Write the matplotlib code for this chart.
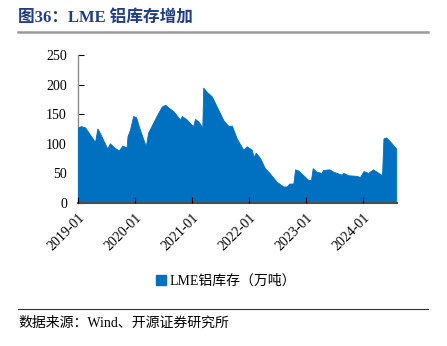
import numpy as np
import pandas as pd
import matplotlib
matplotlib.use("Agg")
import matplotlib.pyplot as plt
import matplotlib.dates as mdates
from matplotlib.patches import Patch

plt.rcParams['font.family'] = ['Liberation Serif', 'Noto Sans CJK SC', 'DejaVu Sans']

# LME aluminium stocks (10k tonnes)
dates = [
    "2019-01-01", "2019-01-20", "2019-02-15", "2019-04-20", "2019-05-05", "2019-05-22",
    "2019-07-08", "2019-07-24", "2019-08-25", "2019-09-20", "2019-10-12", "2019-11-08",
    "2019-11-14", "2019-11-30", "2019-12-20", "2020-01-08", "2020-01-30", "2020-03-10",
    "2020-03-25", "2020-04-25", "2020-05-18", "2020-06-20", "2020-07-12", "2020-09-03",
    "2020-10-16", "2020-10-27", "2020-11-28", "2020-12-18", "2021-01-08", "2021-01-19",
    "2021-02-10", "2021-03-07", "2021-03-13", "2021-04-04", "2021-05-07", "2021-06-08",
    "2021-07-20", "2021-08-22", "2021-09-12", "2021-10-14", "2021-11-25", "2021-12-16",
    "2022-01-18", "2022-01-29", "2022-02-13", "2022-03-12", "2022-04-12", "2022-05-14",
    "2022-06-26", "2022-08-08", "2022-08-29", "2022-09-15", "2022-10-11", "2022-10-22",
    "2022-11-12", "2022-12-14", "2023-01-15", "2023-02-01", "2023-02-12", "2023-03-09",
    "2023-04-10", "2023-04-20", "2023-05-29", "2023-06-24", "2023-08-16", "2023-08-27",
    "2023-09-28", "2023-11-21", "2023-12-12", "2024-01-03", "2024-02-03", "2024-03-03",
    "2024-03-28", "2024-05-01", "2024-05-10", "2024-05-27", "2024-06-22", "2024-07-31",
]
stocks = [
    128, 130, 128, 103, 126, 118,
    92, 101, 93, 89, 97, 94,
    113, 124, 147, 145, 126, 96,
    119, 135, 147, 163, 166, 155,
    141, 147, 141, 135, 130, 142,
    138, 128, 195, 188, 180, 163,
    140, 130, 131, 109, 90, 96,
    90, 78, 85, 76, 59, 50,
    36, 28, 28, 33, 33, 57,
    55, 47, 39, 39, 59, 53,
    51, 56, 57, 53, 48, 51,
    47, 46, 44, 54, 51, 57,
    53, 47, 109, 111, 104, 92,
]
series_name = "LME铝库存（万吨）"
ticks = ["2019-01", "2020-01", "2021-01", "2022-01", "2023-01", "2024-01"]

x = pd.to_datetime(dates)
blue = "#0070C0"

fig = plt.figure(figsize=(4.47, 3.46), dpi=100)
ax = fig.add_axes([0.1745, 0.413, 0.714, 0.428])

ax.fill_between(x, 0, stocks, color=blue, lw=0.6, edgecolor=blue, zorder=3)

ax.set_ylim(0, 250)
ax.set_yticks([0, 50, 100, 150, 200, 250])
ax.set_xlim(pd.Timestamp("2019-01-01"), pd.Timestamp("2024-08-06"))
tick_pos = pd.to_datetime([t + "-01" for t in ticks])
ax.set_xticks(tick_pos)
ax.set_xticklabels(ticks, rotation=45, ha="right", rotation_mode="anchor")

for s in ["top", "right"]:
    ax.spines[s].set_visible(False)
ax.spines["left"].set_color("#8c8c8c")
ax.spines["left"].set_linewidth(1.0)
ax.spines["bottom"].set_color("#4d4d4d")
ax.spines["bottom"].set_linewidth(1.5)
ax.spines["bottom"].set_zorder(4)
ax.xaxis.set_zorder(4)

ax.tick_params(axis="both", direction="in", labelsize=10, colors="black")
ax.tick_params(axis="x", length=4, pad=6)
ax.tick_params(axis="y", length=4, pad=8)

# legend
fig.legend([Patch(color=blue)], [series_name], loc="center",
           bbox_to_anchor=(226 / 447, 1 - 281 / 346), frameon=False,
           handlelength=0.7, handleheight=0.7, handletextpad=0.3, fontsize=10)

# title and source
fig.text(18 / 447, 1 - 18 / 346, "图36：LME 铝库存增加", fontsize=12, fontweight="bold",
         color="#1F3C88", va="center", ha="left")
fig.add_artist(plt.Line2D([18 / 447, 428 / 447], [1 - 32 / 346] * 2,
                          color="#999999", lw=1.8, transform=fig.transFigure))
fig.add_artist(plt.Line2D([18 / 447, 428 / 447], [1 - 309 / 346] * 2,
                          color="#333333", lw=0.8, transform=fig.transFigure))
fig.text(18 / 447, 1 - 323 / 346, "数据来源：Wind、开源证券研究所", fontsize=10,
         color="black", va="center", ha="left")

fig.savefig("out.png", dpi=100)
